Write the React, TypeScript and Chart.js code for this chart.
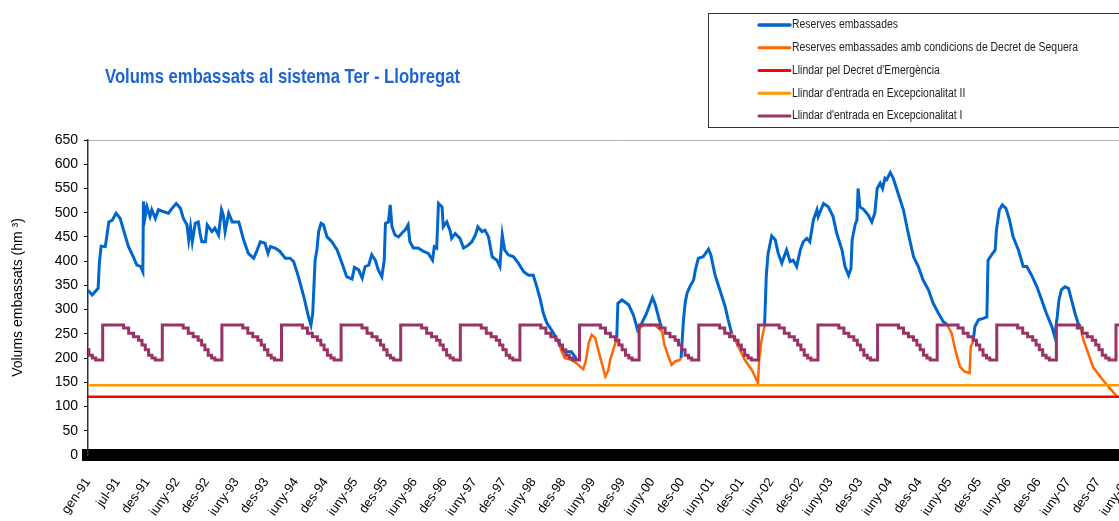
import React, { useEffect, useRef } from 'react';
import { Chart, registerables } from 'chart.js';

Chart.register(...registerables);

const FONT = 'Liberation Sans, Arial, Helvetica, sans-serif';

const TITLE = 'Volums embassats al sistema Ter - Llobregat';
const Y_TITLE = 'Volums embassats (hm ³)';

const X_LABELS = [
  'gen-91', 'jul-91', 'des-91', 'iuny-92', 'des-92', 'iuny-93', 'des-93', 'iuny-94', 'des-94',
  'iuny-95', 'des-95', 'iuny-96', 'des-96', 'iuny-97', 'des-97', 'iuny-98', 'des-98', 'iuny-99',
  'des-99', 'iuny-00', 'des-00', 'iuny-01', 'des-01', 'iuny-02', 'des-02', 'iuny-03', 'des-03',
  'iuny-04', 'des-04', 'iuny-05', 'des-05', 'iuny-06', 'des-06', 'iuny-07', 'des-07', 'iuny-08',
];
const LABEL_STEP_YEARS = 182 / 365.25;
const X_MIN = 1991;
const X_MAX = 2008.75;
const Y_MIN = 0;
const Y_MAX = 650;
const Y_STEP = 50;

const LEGEND_LABELS = [
  'Reserves embassades',
  'Reserves embassades amb condicions de Decret de Sequera',
  "Llindar pel Decret d'Emergència",
  "Llindar d'entrada en Excepcionalitat II",
  "Llindar d'entrada en Excepcionalitat I",
];

// Reserves embassades (time in fractional years, null = gap)
const BLUE_T = [
  1991.00, 1991.07, 1991.17, 1991.19, 1991.22, 1991.29, 1991.35, 1991.41, 1991.47, 1991.54,
  1991.63, 1991.68, 1991.76, 1991.82, 1991.88, 1991.92, 1991.93, 1991.96, 1991.99, 1992.04,
  1992.07, 1992.13, 1992.18, 1992.27, 1992.35, 1992.41, 1992.48, 1992.55, 1992.60, 1992.66,
  1992.69, 1992.72, 1992.75, 1992.80, 1992.85, 1992.88, 1992.91, 1992.97, 1993.00, 1993.08,
  1993.13, 1993.19, 1993.24, 1993.27, 1993.30, 1993.36, 1993.42, 1993.53, 1993.61, 1993.69,
  1993.78, 1993.83, 1993.89, 1993.97, 1994.02, 1994.06, 1994.14, 1994.22, 1994.31, 1994.39,
  1994.45, 1994.53, 1994.62, 1994.70, 1994.74, 1994.77, 1994.81, 1994.84, 1994.87, 1994.91,
  1994.95, 1995.01, 1995.09, 1995.18, 1995.26, 1995.34, 1995.43, 1995.47, 1995.54, 1995.60,
  1995.65, 1995.71, 1995.76, 1995.82, 1995.87, 1995.93, 1995.97, 1995.99, 1996.04, 1996.07,
  1996.10, 1996.15, 1996.21, 1996.29, 1996.32, 1996.37, 1996.40, 1996.46, 1996.54, 1996.63,
  1996.71, 1996.78, 1996.81, 1996.85, 1996.88, 1996.94, 1996.96, 1997.02, 1997.08, 1997.10,
  1997.16, 1997.24, 1997.30, 1997.38, 1997.44, 1997.50, 1997.54, 1997.61, 1997.66, 1997.72,
  1997.78, 1997.86, 1997.91, 1997.95, 1997.99, 1998.05, 1998.14, 1998.22, 1998.31, 1998.39,
  1998.47, 1998.53, 1998.59, 1998.64, 1998.70, 1998.75, 1998.81, 1998.84, 1998.89, 1998.92,
  1998.98, 1999.06, 1999.11, 1999.17, 1999.20, null,
  1999.87, 1999.89, 1999.96, 2000.07, 2000.15, 2000.22, 2000.29, 2000.37, 2000.47, 2000.51,
  2000.60, 2000.63, null,
  2000.95, 2000.99, 2001.02, 2001.05, 2001.10, 2001.16, 2001.19, 2001.24, 2001.32, 2001.41,
  2001.45, 2001.52, 2001.60, 2001.69, 2001.74, 2001.80, null,
  2002.35, 2002.38, 2002.41, 2002.47, 2002.53, 2002.58, 2002.64, 2002.72, 2002.78, 2002.83,
  2002.89, 2002.95, 2003.00, 2003.06, 2003.11, 2003.17, 2003.23, 2003.25, 2003.34, 2003.42,
  2003.50, 2003.56, 2003.65, 2003.70, 2003.76, 2003.80, 2003.82, 2003.87, 2003.90, 2003.92,
  2003.95, 2004.01, 2004.09, 2004.15, 2004.20, 2004.24, 2004.29, 2004.33, 2004.37, 2004.40,
  2004.46, 2004.51, 2004.59, 2004.68, 2004.76, 2004.85, 2004.93, 2005.01, 2005.10, 2005.18,
  2005.27, 2005.35, 2005.41, null,
  2005.85, 2005.88, 2005.94, 2006.02, 2006.08, 2006.10, 2006.16, 2006.22, 2006.24, 2006.29,
  2006.34, 2006.40, 2006.46, 2006.52, 2006.61, 2006.69, 2006.75, 2006.83, 2006.92, 2007.00,
  2007.08, 2007.17, 2007.22, 2007.26, 2007.29, 2007.33, 2007.39, 2007.45, 2007.50, 2007.56,
  2007.61, 2007.65,
];
const BLUE_V = [
  340, 330, 344, 395, 431, 430, 481, 485, 499, 488,
  450, 430, 409, 392, 389, 378, 523, 492, 512, 492,
  506, 488, 506, 502, 499, 509, 519, 509, 488, 475,
  444, 471, 440, 478, 481, 457, 440, 440, 475, 461,
  468, 454, 506, 495, 461, 499, 481, 481, 444, 416,
  406, 420, 440, 437, 416, 430, 427, 420, 406, 406,
  399, 368, 327, 285, 268, 292, 402, 423, 461, 478,
  475, 450, 440, 423, 396, 368, 363, 387, 382, 365,
  389, 392, 413, 402, 382, 368, 402, 478, 481, 516,
  471, 454, 450, 461, 464, 475, 440, 427, 427, 420,
  416, 402, 430, 427, 519, 512, 471, 481, 461, 447,
  457, 447, 427, 433, 440, 454, 471, 461, 464, 450,
  409, 402, 389, 454, 423, 413, 409, 396, 378, 371,
  371, 347, 320, 292, 272, 263, 251, 244, 234, 227,
  213, 213, 213, 203, 196, null,
  240, 313, 320, 310, 289, 258, 272, 292, 325, 313,
  272, 261, null,
  200, 279, 315, 334, 348, 361, 382, 406, 409, 425,
  413, 371, 341, 306, 279, 251, null,
  265, 371, 416, 452, 444, 416, 396, 423, 399, 402,
  389, 423, 440, 447, 440, 485, 506, 492, 519, 512,
  492, 458, 423, 389, 371, 385, 444, 475, 485, 550,
  512, 507, 495, 481, 499, 550, 561, 550, 571, 568,
  583, 571, 540, 506, 458, 409, 389, 361, 341, 313,
  292, 275, 270, null,
  234, 265, 279, 282, 285, 402, 413, 423, 464, 506,
  516, 509, 485, 450, 423, 389, 389, 371, 347, 320,
  292, 265, 244, 285, 320, 341, 347, 344, 320, 292,
  272, 265,
];

// Reserves embassades amb condicions de Decret de Sequera
const ORANGE_T = [
  1998.84, 1998.89, 1998.95, 1999.00, 1999.12, 1999.20, 1999.26, 1999.31, 1999.35, 1999.40,
  1999.45, 1999.51, 1999.56, 1999.62, 1999.68, 1999.73, 1999.76, 1999.82, 1999.87, null,
  2000.22, 2000.32, 2000.51, 2000.63, 2000.67, 2000.74, 2000.79, 2000.85, 2000.93, 2000.95, null,
  2001.80, 2001.91, 2002.02, 2002.14, 2002.24, 2002.26, 2002.30, 2002.35, null,
  2005.41, 2005.49, 2005.55, 2005.63, 2005.71, 2005.79, 2005.81, 2005.85, null,
  2007.65, 2007.70, 2007.78, 2007.86, 2007.98, 2008.12, 2008.24, 2008.28,
];
const ORANGE_V = [
  244, 234, 213, 200, 196, 189, 182, 177, 193, 231,
  248, 241, 217, 189, 162, 175, 196, 220, 240, null,
  258, 268, 268, 255, 227, 203, 186, 193, 196, 200, null,
  251, 224, 196, 175, 149, 196, 237, 265, null,
  270, 251, 217, 182, 172, 169, 224, 234, null,
  265, 237, 210, 182, 162, 141, 124, 119,
];

const EMERGENCY_LEVEL = 120;
const EXCEPCIONALITAT_II_LEVEL = 144;

// Llindar d'entrada en Excepcionalitat I: annual step curve (day of year -> hm3)
const EXC1_STEP_DOY = [0, 6, 27, 47, 90, 218, 249, 279, 310, 331, 351];
const EXC1_STEP_VAL = [217, 206, 200, 196, 268, 262, 251, 244, 237, 227, 217];
const EXC1_YEARS = [1991, 1992, 1993, 1994, 1995, 1996, 1997, 1998, 1999, 2000, 2001, 2002, 2003, 2004, 2005, 2006, 2007, 2008];

const COLORS = ['#0066CC', '#FF6600', '#FF0000', '#FF9900', '#993366'];

function toPoints(ts: (number | null)[], vs: (number | null)[]) {
  const pts: { x: number; y: number | null }[] = [];
  let last = ts[0] as number;
  for (let i = 0; i < ts.length; i++) {
    const t = ts[i] === null ? last : (ts[i] as number);
    last = t;
    pts.push({ x: t, y: vs[i] });
  }
  return pts;
}

function exc1Points() {
  const pts: { x: number; y: number }[] = [];
  EXC1_YEARS.forEach((yr) => {
    EXC1_STEP_DOY.forEach((d, i) => {
      const x = yr + d / 365.25;
      if (x <= X_MAX) pts.push({ x, y: EXC1_STEP_VAL[i] });
    });
  });
  pts.push({ x: X_MAX, y: pts[pts.length - 1].y });
  return pts;
}

const titlePlugin = {
  id: 'customTitle',
  afterDraw(chart: any) {
    const ctx = chart.ctx as CanvasRenderingContext2D;
    ctx.save();
    ctx.font = `bold 21px ${FONT}`;
    ctx.fillStyle = '#1E64D2';
    ctx.textBaseline = 'alphabetic';
    ctx.textAlign = 'left';
    const w = ctx.measureText(TITLE).width;
    const sx = 355 / w;
    ctx.translate(105, 83);
    ctx.scale(sx, 1);
    ctx.fillText(TITLE, 0, 0);
    ctx.restore();
  },
};

const legendPlugin = {
  id: 'customLegend',
  afterDraw(chart: any) {
    const ctx = chart.ctx as CanvasRenderingContext2D;
    ctx.save();
    ctx.strokeStyle = '#333';
    ctx.lineWidth = 1;
    ctx.strokeRect(708.5, 13.5, 440, 114);
    ctx.font = `12px ${FONT}`;
    const longest = LEGEND_LABELS[1];
    const sx = 286 / ctx.measureText(longest).width;
    chart.data.datasets.forEach((ds: any, i: number) => {
      const y = 25 + i * 22.75;
      ctx.beginPath();
      ctx.strokeStyle = ds.borderColor;
      ctx.lineWidth = i === 0 ? 3.5 : 3;
      ctx.lineCap = 'round';
      ctx.moveTo(759, y);
      ctx.lineTo(790, y);
      ctx.stroke();
      ctx.save();
      ctx.fillStyle = '#222';
      ctx.textBaseline = 'middle';
      ctx.textAlign = 'left';
      ctx.translate(792, y);
      ctx.scale(sx, 1);
      ctx.fillText(ds.label, 0, 0);
      ctx.restore();
    });
    ctx.restore();
  },
};

export default function App() {
  const canvasRef = useRef<HTMLCanvasElement | null>(null);

  useEffect(() => {
    if (!canvasRef.current) return;
    Chart.defaults.font.family = FONT;
    const chart = new Chart(canvasRef.current, {
      type: 'line',
      data: {
        datasets: [
          {
            label: LEGEND_LABELS[0],
            data: toPoints(BLUE_T, BLUE_V),
            borderColor: COLORS[0],
            borderWidth: 3,
            pointRadius: 0,
            order: 4,
          },
          {
            label: LEGEND_LABELS[1],
            data: toPoints(ORANGE_T, ORANGE_V),
            borderColor: COLORS[1],
            borderWidth: 2.5,
            pointRadius: 0,
            order: 3,
          },
          {
            label: LEGEND_LABELS[2],
            data: [
              { x: X_MIN, y: EMERGENCY_LEVEL },
              { x: X_MAX, y: EMERGENCY_LEVEL },
            ],
            borderColor: COLORS[2],
            borderWidth: 2.5,
            pointRadius: 0,
            order: 2,
          },
          {
            label: LEGEND_LABELS[3],
            data: [
              { x: X_MIN, y: EXCEPCIONALITAT_II_LEVEL },
              { x: X_MAX, y: EXCEPCIONALITAT_II_LEVEL },
            ],
            borderColor: COLORS[3],
            borderWidth: 2.5,
            pointRadius: 0,
            order: 1,
          },
          {
            label: LEGEND_LABELS[4],
            data: exc1Points(),
            borderColor: COLORS[4],
            borderWidth: 3,
            pointRadius: 0,
            stepped: 'before',
            order: 0,
          },
        ],
      },
      options: {
        animation: false,
        responsive: false,
        devicePixelRatio: 1,
        layout: { padding: { top: 140, right: 14, bottom: 0, left: 0 } },
        plugins: {
          legend: { display: false },
          title: { display: false },
          tooltip: { enabled: false },
        },
        scales: {
          x: {
            type: 'linear',
            min: X_MIN,
            max: X_MAX,
            afterBuildTicks: (scale: any) => {
              scale.ticks = X_LABELS.map((_, i) => ({ value: X_MIN + i * LABEL_STEP_YEARS }));
            },
            afterFit: (scale: any) => {
              scale.height = 66;
            },
            ticks: {
              autoSkip: false,
              minRotation: 55,
              maxRotation: 55,
              padding: 14,
              color: '#000',
              font: { family: FONT, size: 13 },
              callback: (_v: any, i: number) => X_LABELS[i],
            },
            grid: { drawOnChartArea: false, drawTicks: true, tickLength: 6, tickColor: '#000' },
            border: { display: true, color: '#000', width: 12 },
          },
          y: {
            type: 'linear',
            min: Y_MIN,
            max: Y_MAX,
            afterFit: (scale: any) => {
              scale.width = 88;
            },
            ticks: {
              stepSize: Y_STEP,
              padding: 6,
              color: '#000',
              font: { family: FONT, size: 14 },
            },
            grid: {
              drawOnChartArea: true,
              color: (c: any) => (c.tick && c.tick.value === Y_MAX ? '#b5b5b5' : 'rgba(0,0,0,0)'),
              tickColor: '#000',
              tickLength: 4,
            },
            border: { display: true, color: '#333', width: 1.5 },
            title: {
              display: true,
              text: Y_TITLE,
              color: '#000',
              font: { family: FONT, size: 14 },
              padding: { top: 10, bottom: 0 },
            },
          },
        },
      },
      plugins: [titlePlugin, legendPlugin],
    } as any);
    return () => chart.destroy();
  }, []);

  return (
    <div
      style={{
        position: 'absolute',
        left: 0,
        top: 0,
        width: 1119,
        height: 521,
        overflow: 'hidden',
        background: '#fff',
      }}
    >
      <canvas ref={canvasRef} width={1160} height={521} style={{ display: 'block' }} />
    </div>
  );
}
